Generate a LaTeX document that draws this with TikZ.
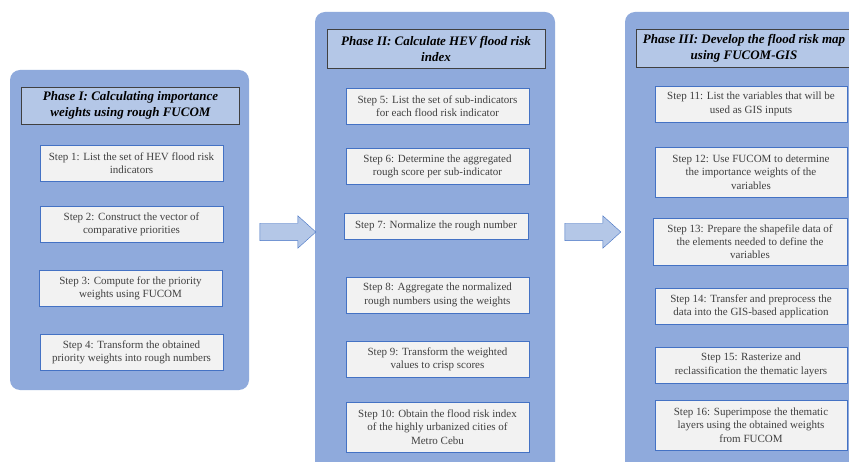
\documentclass[tikz,border=0pt]{standalone}
\usepackage{fontspec}
\setmainfont{Liberation Serif}
\usetikzlibrary{shapes.arrows}

\definecolor{panelblue}{HTML}{8FAADC}
\definecolor{titleblue}{HTML}{B4C7E7}
\definecolor{stepline}{HTML}{4472C4}
\definecolor{stepfill}{HTML}{F2F2F2}

\begin{document}
\begin{tikzpicture}[x=1pt, y=-1pt,
  panel/.style = {fill=panelblue, rounded corners=10pt, inner sep=0pt},
  phase/.style = {draw=black!75, fill=titleblue, inner sep=0pt, align=center, minimum width=218pt,
                  font=\fontsize{13}{16}\selectfont\bfseries\itshape},
  stepbox/.style = {draw=stepline, fill=stepfill, inner sep=0pt, align=center, minimum width=183pt,
                  minimum height=36pt, text=black!75, font=\fontsize{11}{13.3}\selectfont},
  bigarrow/.style = {single arrow, draw=stepline, fill=titleblue, minimum height=56pt, inner xsep=0pt,
                  inner ysep=8.5pt, single arrow head extend=7.5pt, single arrow tip angle=84,
                  single arrow head indent=0pt}]
\clip (0,0) rectangle (849,462);
\fill[white] (0,0) rectangle (849,462);

% phase I
\node[panel, minimum width=239pt, minimum height=320pt] (p1) at (129.5,230) {};
\node[phase, minimum height=37pt] (t1) at (130.5,105.5) {Phase I: Calculating importance\\weights using rough FUCOM};
\node[stepbox] (s1) at (131.5,163) {Step 1: List the set of HEV flood risk\\indicators};
\node[stepbox] (s2) at (131.5,224) {Step 2: Construct the vector of\\comparative priorities};
\node[stepbox] (s3) at (130.5,288) {Step 3: Compute for the priority\\weights using FUCOM};
\node[stepbox] (s4) at (131.5,352) {Step 4: Transform the obtained\\priority weights into rough numbers};

% phase II
\node[panel, minimum width=240pt, minimum height=470pt] (p2) at (435,247) {};
\node[phase, minimum height=39pt] (t2) at (436,48.5) {Phase II: Calculate HEV flood risk\\index};
\node[stepbox] (s5) at (437.5,106) {Step 5: List the set of sub-indicators\\for each flood risk indicator};
\node[stepbox] (s6) at (437.5,166.5) {Step 6: Determine the aggregated\\rough score per sub-indicator};
\node[stepbox, minimum width=184pt, minimum height=26pt] (s7) at (436,226) {Step 7: Normalize the rough number};
\node[stepbox] (s8) at (437.5,295) {Step 8: Aggregate the normalized\\rough numbers using the weights};
\node[stepbox] (s9) at (437.5,359) {Step 9: Transform the weighted\\values to crisp scores};
\node[stepbox, minimum height=50pt] (s10) at (437.5,427) {Step 10: Obtain the flood risk index\\of the highly urbanized cities of\\Metro Cebu};

% phase III
\node[panel, minimum width=255pt, minimum height=470pt] (p3) at (752.5,247) {};
\node[phase, minimum width=216pt, minimum height=38pt] (t3) at (744,48) {Phase III: Develop the flood risk map\\using FUCOM-GIS};
\node[stepbox, minimum width=192pt] (s11) at (751,104) {Step 11: List the variables that will be\\used as GIS inputs};
\node[stepbox, minimum width=192pt, minimum height=50pt] (s12) at (751,172) {Step 12: Use FUCOM to determine\\the importance weights of the\\variables};
\node[stepbox, minimum width=194pt, minimum height=47pt] (s13) at (750,241.5) {Step 13: Prepare the shapefile data of\\the elements needed to define the\\variables};
\node[stepbox, minimum width=192pt] (s14) at (751,306) {Step 14: Transfer and preprocess the\\data into the GIS-based application};
\node[stepbox, minimum width=192pt] (s15) at (751,365) {Step 15: Rasterize and\\reclassification the thematic layers};
\node[stepbox, minimum width=192pt, minimum height=50pt] (s16) at (751,425) {Step 16: Superimpose the thematic\\layers using the obtained weights\\from FUCOM};

% arrows between phases
\node[bigarrow] (a1) at (283,232) {};
\node[bigarrow] (a2) at (588,232) {};
\end{tikzpicture}
\end{document}
